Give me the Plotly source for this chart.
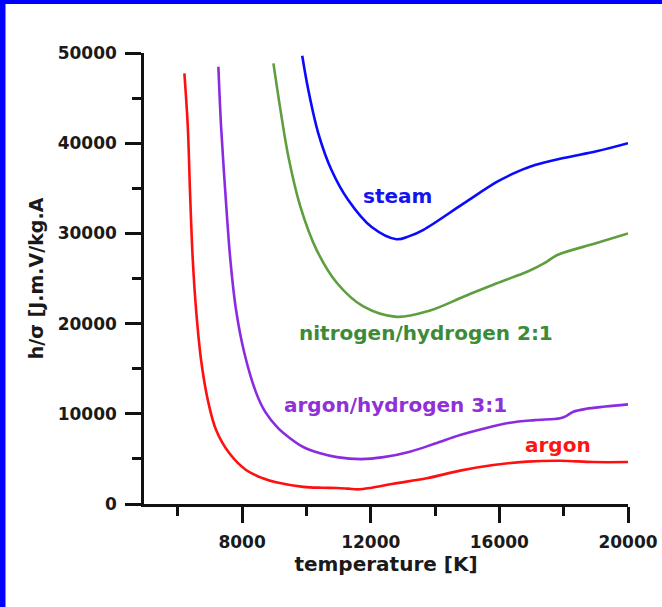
import plotly.graph_objects as go

# ---- data ----
argon_T = [6206, 6312, 6383, 6467, 6570, 6725, 6934, 7192, 7605, 8124, 8644, 9057, 9900, 10500, 10950, 11300, 11600, 12000, 12700, 13740, 14780, 15810, 16850, 17890, 18920, 20000]
argon_v = [47750, 41830, 34410, 27050, 21510, 15960, 11530, 8200, 5620, 3770, 2850, 2400, 1900, 1800, 1780, 1700, 1620, 1780, 2250, 2850, 3700, 4320, 4700, 4800, 4650, 4650]

arh_T = [7263, 7347, 7481, 7636, 7813, 8072, 8435, 8720, 9120, 9500, 9900, 10400, 10950, 11700, 12400, 13220, 14000, 14780, 15500, 16330, 17100, 17890, 18100, 18300, 18700, 19300, 20000]
arh_v = [48480, 41830, 34440, 27050, 21510, 16710, 12350, 10210, 8410, 7270, 6320, 5650, 5200, 4980, 5200, 5800, 6700, 7650, 8350, 9010, 9300, 9500, 9800, 10230, 10550, 10800, 11050]

nh_T = [8975, 9180, 9440, 9810, 10320, 10950, 11770, 12800, 13800, 14900, 15900, 16900, 17400, 17800, 19000, 20000]
nh_v = [48850, 44000, 38500, 33000, 28150, 24500, 21900, 20750, 21400, 23000, 24450, 25800, 26700, 27600, 28900, 30000]

steam_T = [9870, 10060, 10370, 10780, 11300, 12030, 12800, 13200, 13640, 14880, 15920, 16440, 16950, 17990, 19020, 20000]
steam_v = [49700, 45900, 41100, 37030, 33700, 30700, 29350, 29700, 30400, 33300, 35700, 36650, 37400, 38350, 39100, 40000]

x_major = [8000, 12000, 16000, 20000]
x_minor = [6000, 10000, 14000, 18000]
y_major = [0, 10000, 20000, 30000, 40000, 50000]
y_minor = [5000, 15000, 25000, 35000, 45000]

FONT = "DejaVu Sans"

series = [
    (steam_T, steam_v, "#0a0aff"),
    (nh_T, nh_v, "#5f9e3f"),
    (arh_T, arh_v, "#8a2be2"),
    (argon_T, argon_v, "#ff1010"),
]

fig = go.Figure()
for T, v, c in series:
    fig.add_trace(go.Scatter(x=T, y=v, mode="lines",
                             line=dict(color=c, width=2.6, shape="spline", smoothing=1.0),
                             showlegend=False, hoverinfo="skip"))

labels = [
    ("steam", 11700, 34150, "#1414f0"),
    ("nitrogen/hydrogen 2:1", 9710, 18960, "#3d8b37"),
    ("argon/hydrogen 3:1", 9240, 10975, "#9030d8"),
    ("argon", 16740, 6540, "#ff1414"),
]
for txt, x, y, c in labels:
    fig.add_annotation(x=x, y=y, text="<b>%s</b>" % txt, showarrow=False,
                       xanchor="left", yanchor="middle",
                       font=dict(family=FONT, size=20, color=c))

# blue frame strips (left and top)
W, H = 662, 607
L, R, T_, B = 144, 34, 53, 103
pw, ph = W - L - R, H - T_ - B
def px(xp):
    return (xp - L) / pw
def py(yp):
    return (H - B - yp) / ph
fig.add_shape(type="rect", xref="paper", yref="paper",
              x0=px(-10), x1=px(5.5), y0=py(H + 10), y1=py(-10),
              fillcolor="#0000ff", line_width=0, layer="above")
fig.add_shape(type="rect", xref="paper", yref="paper",
              x0=px(-10), x1=px(W + 10), y0=py(4), y1=py(-10),
              fillcolor="#0000ff", line_width=0, layer="above")

axis_common = dict(showgrid=False, zeroline=False, showline=True, automargin=False,
                   linecolor="#111111", linewidth=2.5,
                   ticks="outside", ticklen=16, tickwidth=2.5, tickcolor="#111111",
                   tickfont=dict(family=FONT, size=17, color="#1a1a1a"),
                   ticklabelstandoff=5)

fig.update_xaxes(range=[4950, 20000], tickmode="array", tickvals=x_major,
                 ticktext=["<b>%d</b>" % t for t in x_major],
                 minor=dict(tickmode="array", tickvals=x_minor, ticks="outside",
                            ticklen=9, tickwidth=2.5, tickcolor="#111111"),
                 title=dict(text="<b>temperature [K]</b>", standoff=1,
                            font=dict(family=FONT, size=20, color="#1a1a1a")),
                 **axis_common)
fig.update_yaxes(range=[0, 50000], tickmode="array", tickvals=y_major,
                 ticktext=["<b>%d</b>" % t for t in y_major],
                 minor=dict(tickmode="array", tickvals=y_minor, ticks="outside",
                            ticklen=9, tickwidth=2.5, tickcolor="#111111"),
                 title=dict(text="<b>h/σ [J.m.V/kg.A</b>", standoff=10,
                            font=dict(family=FONT, size=19, color="#1a1a1a")),
                 **axis_common)

fig.update_layout(width=W, height=H,
                  margin=dict(l=L, r=R, t=T_, b=B),
                  paper_bgcolor="white", plot_bgcolor="white")

fig.write_html("out.html", config={"displayModeBar": False},
               post_script="document.body.style.margin='0px';")
